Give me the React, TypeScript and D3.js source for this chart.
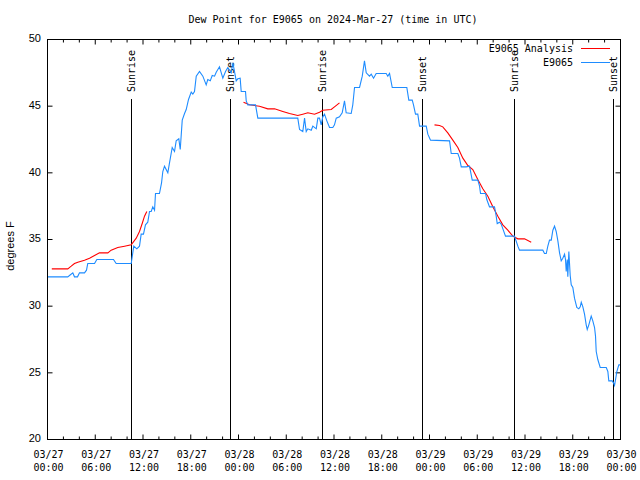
import React from "react";
import * as d3 from "d3";

// E9065 observed dew point: hours since 2024-03-27 00:00 UTC, degrees F
const obsHours = [
  0, 2.55, 2.76, 3.18, 3.39, 3.77, 4.02, 4.65, 4.9, 5.06, 5.91, 6.2, 8.29, 8.63, 10.52,
  10.84, 11.22, 11.56, 11.77, 12.06, 12.31, 12.6, 12.82, 13.03, 13.23, 13.45, 13.57, 14.07,
  14.33, 14.49, 14.7, 15.12, 15.33, 15.67, 15.96, 16.17, 16.5, 16.68, 16.93, 17.22, 17.43,
  17.72, 18.06, 18.26, 18.47, 18.69, 19.1, 19.52, 19.94, 20.14, 20.45, 20.7, 20.99, 21.2,
  21.61, 22.03, 22.37, 22.66, 23.08, 23.29, 23.5, 23.71, 23.91, 24.21, 24.34, 24.88, 24.97,
  25.17, 26.14, 26.43, 31.45, 31.67, 32.08, 32.3, 32.51, 32.71, 33.14, 33.34, 33.77, 33.97,
  34.18, 34.39, 34.59, 34.81, 35.1, 35.44, 35.85, 36.06, 36.28, 36.69, 37.03, 37.32, 37.53,
  38.16, 38.36, 38.58, 39.21, 39.55, 39.83, 40.05, 40.46, 40.68, 40.97, 41.3, 42.56, 42.76,
  42.98, 43.32, 45.15, 45.4, 45.83, 45.99, 46.24, 46.53, 46.75, 47.59, 47.79, 48.13, 50.52,
  50.73, 51.56, 51.77, 51.99, 52.61, 53.03, 53.37, 54.07, 54.29, 54.41, 55.04, 55.2, 55.54,
  56.17, 56.38, 56.51, 56.8, 57.01, 57.55, 58.47, 58.68, 59.1, 59.31, 62.24, 62.45, 62.67,
  62.87, 63.08, 63.3, 63.5, 63.71, 63.92, 64.13, 64.34, 64.55, 64.75, 64.97, 65.09, 65.18,
  65.31, 65.38, 65.51, 65.68, 65.81, 66.01, 66.22, 66.51, 66.76, 66.94, 67.07, 67.27, 67.48,
  67.69, 67.82, 68.02, 68.32, 68.52, 68.74, 68.86, 68.95, 69.15, 69.45, 70.21, 70.41, 70.53,
  70.96, 71.12, 71.25, 71.38, 71.54, 71.79, 71.94,
];
const obsDewPoint = [
  32.2, 32.2, 32.3, 32.5, 32.2, 32.2, 32.5, 32.5, 32.7, 33.2, 33.2, 33.5, 33.5, 33.2, 33.2,
  34.5, 34.3, 34.5, 35.4, 35.4, 36.1, 36.3, 37.1, 37.1, 37.45, 37.2, 38.45, 38.45,
  39.25, 40.1, 40.5, 40.0, 40.75, 41.9, 41.6, 42.4, 42.55, 41.75, 43.95, 44.45, 44.75,
  45.5, 46.05, 45.9, 46.1, 47.25, 47.6, 47.25, 46.6, 47.0, 46.9, 47.3, 47.25, 47.55,
  47.95, 47.1, 47.6, 47.9, 47.5, 48.25, 47.6, 46.9, 47.05, 47.1, 46.1, 46.1, 45.4,
  45.1, 45.1, 44.1, 44.1, 43.25, 43.1, 44.1, 43.1, 43.3, 43.2, 43.5, 43.3, 44.1,
  44.1, 43.6, 44.2, 44.4, 43.9, 43.4, 43.4, 43.6, 44.1, 44.2, 44.5, 45.4, 44.5,
  44.45, 45.1, 46.4, 46.4, 47.25, 48.4, 47.5, 47.25, 47.4, 47.1, 47.45, 47.45, 47.25,
  47.45, 46.4, 46.4, 45.45, 45.45, 45.1, 44.4, 44.4, 43.5, 43.5, 42.9, 42.45, 42.4,
  41.45, 41.45, 41.1, 40.45, 40.45, 40.5, 39.45, 39.45, 39.0, 38.45, 38.45, 38.0, 37.45,
  37.45, 36.75, 36.2, 36.3, 36.15, 35.25, 35.25, 35.25, 34.5, 34.2, 34.2, 33.95, 33.95,
  34.5, 34.95, 34.95, 35.7, 36.0, 35.6, 34.9, 34.0, 33.4, 33.6, 33.9, 33.5, 32.6,
  33.5, 32.2, 34.1, 32.3, 31.6, 31.4, 30.6, 29.9, 29.8, 29.95, 30.3, 29.95, 29.4,
  28.6, 28.25, 28.6, 29.25, 28.9, 28.4, 27.75, 26.6, 26.0, 25.4, 25.4, 25.1, 24.4,
  24.4, 24.25, 24.05, 24.5, 25.1, 25.6, 25.6,
];

// E9065 Analysis (NaN = gap)
const anaHours = [
  0.54, 2.55, 2.98, 3.39, 3.81, 4.65, 5.28, 5.91, 6.53, 7.58, 8.0, 8.83, 9.68, 10.52, 11.15,
  11.56, 11.9, 12.19, 12.48, NaN,
  24.63, 25.38, 26.64, 27.68, 28.53, 29.57, 30.41, 31.45, 32.08, 32.71, 33.55, 34.18, 34.59,
  35.65, 36.06, 36.69, NaN,
  48.63, 49.26, 49.67, 50.3, 50.93, 51.56, 52.19, 52.82, 53.44, 54.07, 54.7, 55.33, 55.96,
  56.59, 57.21, 57.84, 58.47, 59.1, 59.94, 60.78,
];
const anaDewPoint = [
  32.8, 32.8, 33.0, 33.2, 33.3, 33.45, 33.6, 33.8, 34.0, 34.0, 34.2, 34.4, 34.5, 34.6, 35.1,
  35.6, 36.2, 36.75, 37.1, NaN,
  45.3, 45.1, 45.0, 44.8, 44.8, 44.6, 44.45, 44.3, 44.4, 44.5, 44.4, 44.55, 44.7,
  44.75, 44.95, 45.25, NaN,
  43.6, 43.55, 43.45, 43.0, 42.45, 41.9, 41.1, 40.55, 40.25, 39.5, 38.8, 38.25, 37.45,
  36.75, 36.1, 35.7, 35.25, 35.05, 35.05, 34.8,
];

const sunEventHours = [10.43, 22.91, 34.47, 47.04, 58.6, 71.09];
const sunEventLabels = ["Sunrise", "Sunset", "Sunrise", "Sunset", "Sunrise", "Sunset"];

const xTickHours = [0, 6, 12, 18, 24, 30, 36, 42, 48, 54, 60, 66, 72];
const xTickDates = ["03/27", "03/27", "03/27", "03/27", "03/28", "03/28", "03/28", "03/28", "03/29", "03/29", "03/29", "03/29", "03/30"];
const xTickTimes = ["00:00", "06:00", "12:00", "18:00", "00:00", "06:00", "12:00", "18:00", "00:00", "06:00", "12:00", "18:00", "00:00"];
const yTicks = [20, 25, 30, 35, 40, 45, 50];

const MONO = "'DejaVu Sans Mono', monospace";
const SANS = "'Liberation Sans', 'DejaVu Sans', sans-serif";
const RED = "#ff0000";
const BLUE = "#1e8cff";

export default function App() {
  const W = 640, H = 480;
  const x = d3.scaleLinear().domain([0, 72]).range([47.5, 620.5]);
  const y = d3.scaleLinear().domain([20, 50]).range([439.5, 39.5]);

  const obs = obsHours.map((h, i) => [h, obsDewPoint[i]] as [number, number]);
  const ana = anaHours.map((h, i) => [h, anaDewPoint[i]] as [number, number]);
  const line = d3
    .line<[number, number]>()
    .defined((d) => !isNaN(d[0]) && !isNaN(d[1]))
    .x((d) => x(d[0]))
    .y((d) => y(d[1]));

  const minorX = d3.range(0, 73, 2).filter((h) => h % 6 !== 0);

  return (
    <svg width={W} height={H} style={{ position: "absolute", left: 0, top: 0, background: "#fff" }}>
      <rect x={0} y={0} width={W} height={H} fill="#fff" />
      <text x={333} y={20} textAnchor="middle" dominantBaseline="middle" fontFamily={MONO} fontSize={10}>
        Dew Point for E9065 on 2024-Mar-27 (time in UTC)
      </text>

      {/* y ticks */}
      {yTicks.map((v) => (
        <g key={"y" + v}>
          <line x1={x(0)} x2={x(0) + 5} y1={y(v)} y2={y(v)} stroke="#000" />
          <line x1={x(72)} x2={x(72) - 5} y1={y(v)} y2={y(v)} stroke="#000" />
          <text x={41} y={y(v)} textAnchor="end" dominantBaseline="middle" fontFamily={SANS} fontSize={11}>
            {v}
          </text>
        </g>
      ))}
      <text
        transform={`translate(11,246) rotate(-90)`}
        textAnchor="middle"
        dominantBaseline="middle"
        fontFamily={SANS}
        fontSize={11}
      >
        degrees F
      </text>

      {/* x ticks */}
      {xTickHours.map((h, i) => (
        <g key={"x" + h}>
          <line x1={x(h)} x2={x(h)} y1={y(20)} y2={y(20) - 5} stroke="#000" />
          <line x1={x(h)} x2={x(h)} y1={y(50)} y2={y(50) + 5} stroke="#000" />
          <text x={x(h) + 1} y={455} textAnchor="middle" dominantBaseline="middle" fontFamily={MONO} fontSize={10}>
            {xTickDates[i]}
          </text>
          <text x={x(h) + 1} y={468} textAnchor="middle" dominantBaseline="middle" fontFamily={MONO} fontSize={10}>
            {xTickTimes[i]}
          </text>
        </g>
      ))}
      {minorX.map((h) => (
        <g key={"m" + h}>
          <line x1={x(h)} x2={x(h)} y1={y(20)} y2={y(20) - 3} stroke="#000" />
          <line x1={x(h)} x2={x(h)} y1={y(50)} y2={y(50) + 3} stroke="#000" />
        </g>
      ))}

      {/* sunrise / sunset */}
      {sunEventHours.map((h, i) => (
        <g key={"s" + i}>
          <line x1={Math.round(x(h)) + 0.5} x2={Math.round(x(h)) + 0.5} y1={99} y2={y(20)} stroke="#000" />
          <text
            transform={`translate(${x(h) + 1},92) rotate(-90)`}
            textAnchor="start"
            dominantBaseline="middle"
            fontFamily={MONO}
            fontSize={10}
          >
            {sunEventLabels[i]}
          </text>
        </g>
      ))}

      <path d={line(ana) || ""} fill="none" stroke={RED} strokeWidth={1.1} />
      <path d={line(obs) || ""} fill="none" stroke={BLUE} strokeWidth={1.1} />

      {/* legend */}
      <text x={573} y={49} textAnchor="end" dominantBaseline="middle" fontFamily={MONO} fontSize={10}>
        E9065 Analysis
      </text>
      <line x1={581} x2={610} y1={48.5} y2={48.5} stroke={RED} />
      <text x={573} y={63} textAnchor="end" dominantBaseline="middle" fontFamily={MONO} fontSize={10}>
        E9065
      </text>
      <line x1={581} x2={610} y1={62.5} y2={62.5} stroke={BLUE} />

      <rect x={47.5} y={39.5} width={573} height={400} fill="none" stroke="#000" />
    </svg>
  );
}
